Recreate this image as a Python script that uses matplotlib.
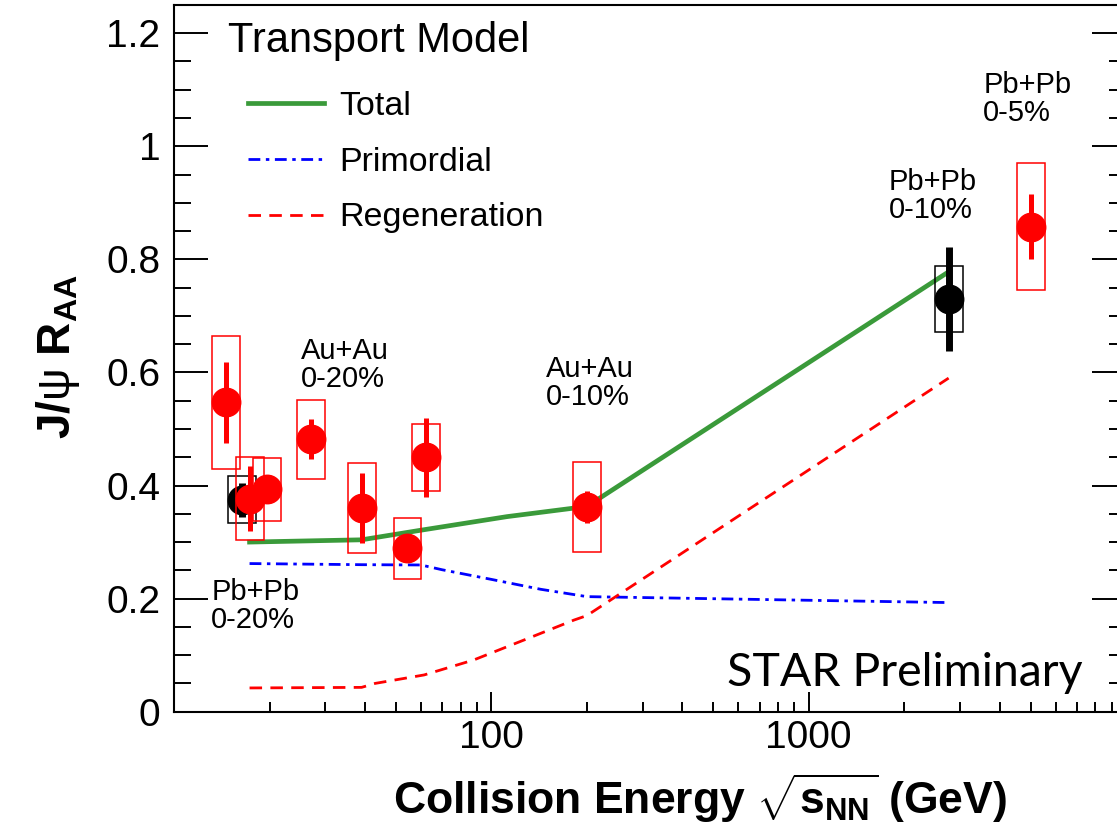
import numpy as np
import matplotlib
matplotlib.use('Agg')
import matplotlib.pyplot as plt
from matplotlib.patches import Rectangle
from matplotlib.ticker import FixedLocator, FixedFormatter, NullFormatter

plt.rcParams['font.family'] = ['Liberation Sans', 'DejaVu Sans']
plt.rcParams['mathtext.fontset'] = 'custom'
plt.rcParams['mathtext.rm'] = 'Liberation Sans'
plt.rcParams['mathtext.bf'] = 'Liberation Sans:bold'
plt.rcParams['mathtext.it'] = 'Liberation Sans:italic'
plt.rcParams['mathtext.sf'] = 'Liberation Sans'
plt.rcParams['lines.scale_dashes'] = False

# STAR Au+Au (and LHC Pb+Pb 5.02 TeV) J/psi R_AA, red points
red_energy = [14.6, 17.3, 19.6, 27, 39, 54.4, 62.4, 200, 5020]
red_raa = [0.547, 0.377, 0.393, 0.482, 0.360, 0.289, 0.450, 0.362, 0.858]
red_stat = [0.072, 0.058, 0.020, 0.035, 0.062, 0.015, 0.070, 0.029, 0.058]
red_sys = [0.117, 0.074, 0.056, 0.070, 0.079, 0.054, 0.059, 0.080, 0.113]

# SPS / LHC Pb+Pb, black points
black_energy = [16.4, 2760]
black_raa = [0.375, 0.730]
black_stat = [0.030, 0.092]
black_sys = [0.042, 0.059]

# transport model curves
total_energy = [17.3, 39, 60, 112, 200, 2760]
total_raa = [0.300, 0.304, 0.321, 0.345, 0.363, 0.778]
prim_energy = [17.3, 39, 60, 70, 100, 143, 200, 2760]
prim_raa = [0.262, 0.260, 0.2595, 0.251, 0.234, 0.2165, 0.2035, 0.193]
regen_energy = [17.3, 39, 43, 61.4, 88, 127, 182, 200, 2760]
regen_raa = [0.042, 0.043, 0.050, 0.065, 0.0915, 0.127, 0.162, 0.170, 0.590]

# collision system labels, placed by their top-left corner
system_labels = ['Au+Au\n0-20%', 'Au+Au\n0-10%', 'Pb+Pb\n0-20%', 'Pb+Pb\n0-10%', 'Pb+Pb\n0-5%']
label_energy = [25.1, 149, 13.1, 1785, 3548]
label_raa = [0.663, 0.631, 0.237, 0.962, 1.133]

y_ticks = [0, 0.2, 0.4, 0.6, 0.8, 1.0, 1.2]
y_tick_labels = ['0', '0.2', '0.4', '0.6', '0.8', '1', '1.2']
x_ticks = [100, 1000]
x_tick_labels = ['100', '1000']

green = '#3a9a3a'
box_f = 10 ** 0.044  # half-width of systematic boxes in log x

fig = plt.figure(figsize=(11.17, 8.24), dpi=100)
ax = fig.add_axes([0.1558, 0.1363, 0.8523, 0.8577])
ax.set_xscale('log')
ax.set_xlim(10, 10000)
ax.set_ylim(0, 1.25)

l_tot, = ax.plot(total_energy, total_raa, color=green, lw=3.4, label='Total', zorder=2)
l_pri, = ax.plot(prim_energy, prim_raa, color='blue', lw=2, dashes=(8.5, 4, 2.5, 4),
                 label='Primordial', zorder=2)
l_reg, = ax.plot(regen_energy, regen_raa, color='red', lw=2, dashes=(9, 6),
                 label='Regeneration', zorder=2)


def draw_points(e, raa, stat, sys, color, elw, z):
    for xi, yi, si in zip(e, raa, sys):
        ax.add_patch(Rectangle((xi / box_f, yi - si), xi * box_f - xi / box_f, 2 * si,
                               fill=False, edgecolor=color, lw=1.1, zorder=z))
    ax.errorbar(e, raa, yerr=stat, fmt='o', color=color, ms=20.5, elinewidth=elw,
                capsize=0, zorder=z + 1)


draw_points(black_energy, black_raa, black_stat, black_sys, 'black', 5, 3)
draw_points(red_energy, red_raa, red_stat, red_sys, 'red', 3.6, 5)

for txt, xe, yr in zip(system_labels, label_energy, label_raa):
    ax.text(xe, yr, txt, ha='left', va='top', fontsize=21, linespacing=1.0, zorder=6)

# ticks
ax.xaxis.set_major_locator(FixedLocator(x_ticks))
ax.xaxis.set_major_formatter(FixedFormatter(x_tick_labels))
minor_x = [m * d for d in (10, 100, 1000) for m in range(2, 10)]
ax.xaxis.set_minor_locator(FixedLocator(minor_x))
ax.xaxis.set_minor_formatter(NullFormatter())
ax.yaxis.set_major_locator(FixedLocator(y_ticks))
ax.yaxis.set_major_formatter(FixedFormatter(y_tick_labels))
ax.yaxis.set_minor_locator(FixedLocator(np.arange(0, 1.25, 0.05)))

ax.tick_params(axis='y', which='major', direction='in', length=24.5, width=1.4,
               left=True, right=True, labelsize=28, pad=10)
ax.tick_params(axis='y', which='minor', direction='in', length=12.2, width=1.4,
               left=True, right=True)
ax.tick_params(axis='x', which='major', direction='in', length=14.4, width=1.4,
               bottom=True, top=False, labelsize=28, pad=6)
ax.tick_params(axis='x', which='minor', direction='in', length=7.2, width=1.4,
               bottom=True, top=False)
for s in ax.spines.values():
    s.set_linewidth(1.5)

ax.set_ylabel(r'$\mathbf{J/}\mathrm{ψ}\ \mathbf{R}_{\mathbf{AA}}$', fontsize=33)
ax.yaxis.set_label_coords(-0.097, 0.502)
ax.set_xlabel(r'Collision Energy $\sqrt{\mathbf{s}_{\mathbf{NN}}}$ (GeV)',
              fontsize=32, fontweight='bold')
ax.xaxis.set_label_coords(0.5525, -0.085)

# legend
ax.text(0.0567, 0.949, 'Transport Model', transform=ax.transAxes, ha='left',
        va='center', fontsize=30)
ax.legend(handles=[l_tot, l_pri, l_reg], loc='upper left', bbox_to_anchor=(0.0777, 0.8785),
          frameon=False, fontsize=24.5, handlelength=2.23, handletextpad=0.45,
          labelspacing=0.73, borderpad=0, borderaxespad=0)

ax.text(0.9548, 0.0548, 'STAR Preliminary', transform=ax.transAxes, ha='right',
        va='center', fontsize=33.5, family='Lato')

fig.savefig('out.png', dpi=100)
